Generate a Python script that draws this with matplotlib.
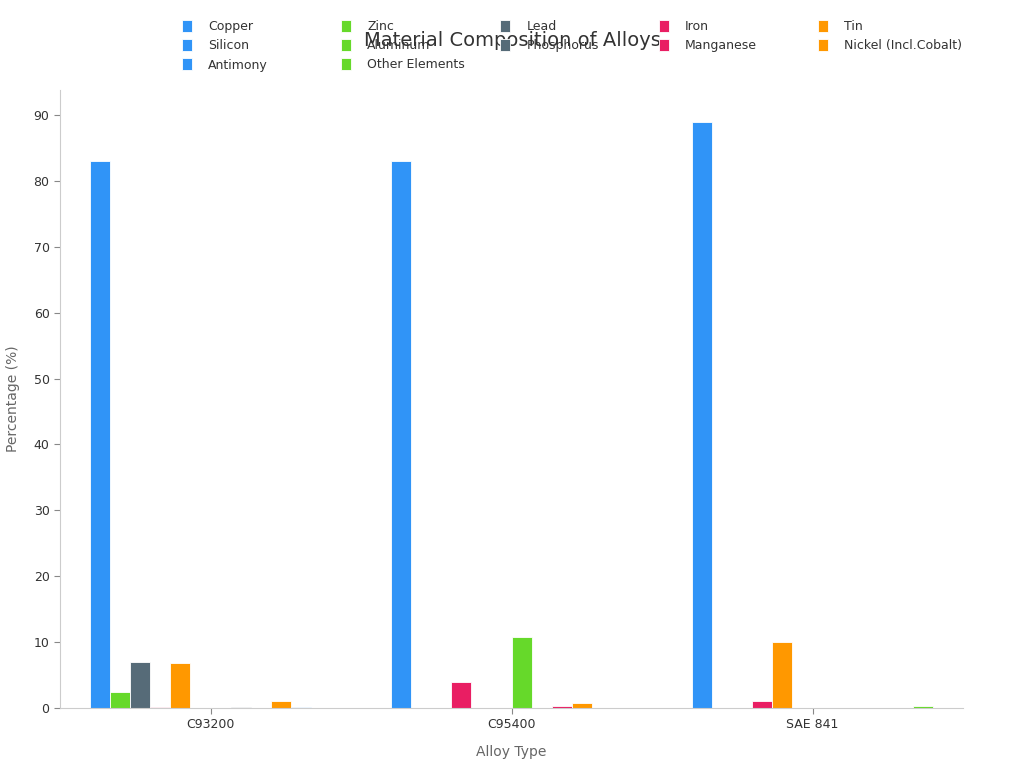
import numpy as np
import matplotlib.pyplot as plt

alloys = ['C93200', 'C95400', 'SAE 841']
elements = ['Copper', 'Zinc', 'Lead', 'Iron', 'Tin',
            'Silicon', 'Aluminum', 'Phosphorus', 'Manganese', 'Nickel (Incl.Cobalt)',
            'Antimony', 'Other Elements']
# values per element, one per alloy
copper = [83, 83, 89]
zinc = [2.5, 0, 0]
lead = [7, 0, 0]
iron = [0.2, 4, 1]
tin = [6.9, 0, 10]
silicon = [0, 0, 0]
aluminum = [0, 10.8, 0]
phosphorus = [0.15, 0, 0]
manganese = [0, 0.3, 0]
nickel = [1, 0.8, 0]
antimony = [0.15, 0, 0]
other = [0, 0, 0.3]
values = [copper, zinc, lead, iron, tin, silicon, aluminum, phosphorus,
          manganese, nickel, antimony, other]

palette = ['#3094F7', '#66D92A', '#566B78', '#E91E63', '#FF9800']
colors = [palette[i % 5] for i in range(len(elements))]

fig = plt.figure(figsize=(10.24, 7.68), dpi=100)
ax = fig.add_axes([60/1024, 60/768, 903/1024, 618/768])

x = np.arange(len(alloys))
w = 0.8 / len(elements)
bars = []
for k, (name, vals) in enumerate(zip(elements, values)):
    b = ax.bar(x + (k - 5.5) * w, vals, w, color=colors[k], label=name,
               edgecolor='white', linewidth=0.6)
    bars.append(b)

ax.set_xlim(-0.5, 2.5)
ax.set_ylim(0, 93.8)
ax.set_xticks(x)
ax.set_xticklabels(alloys)
ax.set_yticks(range(0, 91, 10))
ax.tick_params(axis='both', colors='#888888', labelcolor='#333333', labelsize=9, length=4)
for s in ['top', 'right']:
    ax.spines[s].set_visible(False)
for s in ['left', 'bottom']:
    ax.spines[s].set_color('#cccccc')
ax.set_xlabel('Alloy Type', fontsize=10, color='#666666', labelpad=10)
ax.set_ylabel('Percentage (%)', fontsize=10, color='#666666', labelpad=10)

fig.text(0.5, 1 - 40/768, 'Material Composition of Alloys', ha='center', va='center',
         fontsize=14, color='#333333')

# legend: 5 columns with equal spacing
col_x = [182, 341, 500, 659, 818]
for j in range(5):
    idx = [i for i in range(j, len(elements), 5)]
    leg = fig.legend([bars[i] for i in idx], [elements[i] for i in idx],
                     loc='upper left', bbox_to_anchor=(col_x[j]/1024, 1 - 20/768),
                     frameon=False, fontsize=9, handlelength=0.8, handleheight=1.1,
                     handletextpad=1.3, labelspacing=0.47, borderaxespad=0,
                     borderpad=0)
    for t in leg.get_texts():
        t.set_color('#333333')

fig.savefig('out.png', dpi=100)
